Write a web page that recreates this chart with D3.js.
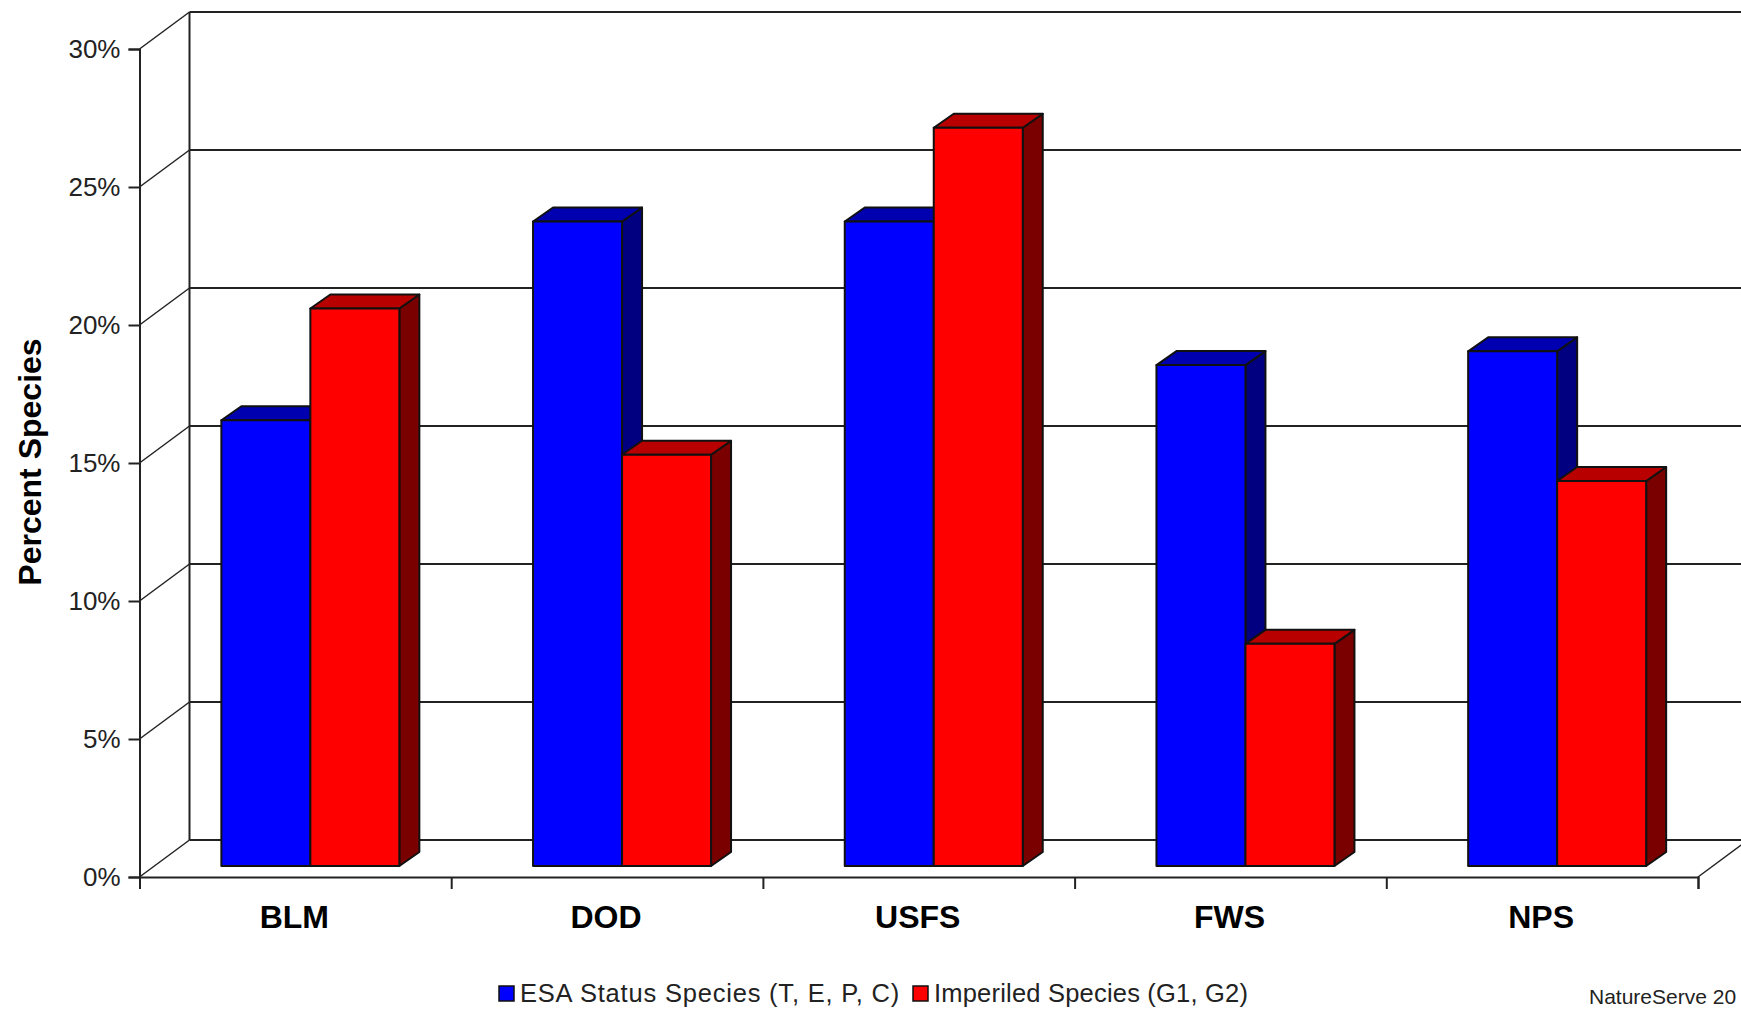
<!DOCTYPE html>
<html>
<head>
<meta charset="utf-8">
<script src="https://cdn.jsdelivr.net/npm/d3@7"></script>
<style>
  html, body { margin: 0; padding: 0; background: #fff; overflow: hidden; }
  text { font-family: "Liberation Sans", Arial, sans-serif; }
</style>
</head>
<body>
<div id="chart"></div>
<script>
const categories = ["BLM", "DOD", "USFS", "FWS", "NPS"];
const esaValues = [16.15, 23.35, 23.35, 18.15, 18.65];
const imperiledValues = [20.2, 14.9, 26.75, 8.05, 13.95];
const yTicks = [0, 5, 10, 15, 20, 25, 30];
const seriesNames = ["ESA Status Species (T, E, P, C)", "Imperiled Species (G1, G2)"];

const chartWidth = 1741, chartHeight = 1009;
const lineColor = "#222";

// front plane of the 3D box, the back wall is shifted by depthX / depthY
const plotLeft = 139.5, plotRight = 1698, plotBottom = 877, plotTop = 49;
const depthX = 50, depthY = 37;
// bars stand part way into the floor
const barDepthX = 20, barDepthY = 14, barShiftX = 15, barShiftY = 11;
const barGroupWidth = 178;

const svg = d3.select("#chart").append("svg")
    .attr("width", chartWidth)
    .attr("height", chartHeight)
    .style("display", "block");

const xScale = d3.scaleBand().domain(categories).range([plotLeft, plotRight]);
const xEdges = d3.scaleLinear().domain([0, categories.length]).range([plotLeft, plotRight]);
const xInner = d3.scaleBand().domain([0, 1]).range([0, barGroupWidth]);
const yScale = d3.scaleLinear().domain([0, 30]).range([plotBottom, plotTop]);

// back wall grid lines and the diagonals running to the front axis
const grid = svg.append("g").attr("stroke", lineColor).attr("stroke-width", 2).attr("fill", "none");
yTicks.forEach(t => {
    grid.append("line")
        .attr("x1", plotLeft + depthX).attr("x2", chartWidth)
        .attr("y1", yScale(t) - depthY).attr("y2", yScale(t) - depthY);
    grid.append("line")
        .attr("x1", plotLeft).attr("x2", plotLeft + depthX)
        .attr("y1", yScale(t)).attr("y2", yScale(t) - depthY)
        .attr("stroke-width", 1.5);
});
grid.append("line")
    .attr("x1", plotLeft + depthX).attr("x2", plotLeft + depthX)
    .attr("y1", yScale(30) - depthY).attr("y2", yScale(0) - depthY);
grid.append("line")
    .attr("x1", plotRight).attr("x2", plotRight + depthX)
    .attr("y1", yScale(0)).attr("y2", yScale(0) - depthY)
    .attr("stroke-width", 1.5);

// axes
const yAxis = svg.append("g")
    .attr("transform", `translate(${plotLeft},0)`)
    .call(d3.axisLeft(yScale).tickValues(yTicks).tickFormat(d => d + "%").tickSize(11).tickPadding(8));
const xAxis = svg.append("g")
    .attr("transform", `translate(0,${plotBottom})`)
    .call(d3.axisBottom(xEdges).ticks(categories.length).tickFormat("").tickSize(12));
[yAxis, xAxis].forEach(a => {
    a.select(".domain").attr("stroke", lineColor).attr("stroke-width", 2);
    a.selectAll(".tick line").attr("stroke", lineColor).attr("stroke-width", 2);
});
yAxis.selectAll("text").attr("font-size", 26).attr("fill", "#222");

svg.append("g")
    .selectAll("text")
    .data(categories)
    .join("text")
    .attr("x", d => xScale(d) + xScale.bandwidth() / 2 - 1)
    .attr("y", 928)
    .attr("text-anchor", "middle")
    .attr("font-size", 32)
    .attr("font-weight", "bold")
    .attr("fill", "#000")
    .text(d => d);

svg.append("text")
    .attr("transform", "translate(41,462) rotate(-90)")
    .attr("text-anchor", "middle")
    .attr("font-size", 32)
    .attr("font-weight", "bold")
    .text("Percent Species");

// bars: one front face, one top face, one side face each
const series = [
    { values: esaValues, front: "#0000ff", topFace: "#0000b0", side: "#000080" },
    { values: imperiledValues, front: "#ff0000", topFace: "#b80000", side: "#7a0000" }
];

const bars = svg.append("g").attr("stroke", "#111").attr("stroke-width", 2).attr("stroke-linejoin", "round");
// drawn left to right so a red bar can cover the side of the blue one
categories.forEach((cat, c) => {
    const start = xScale(cat) + (xScale.bandwidth() - barGroupWidth) / 2 + barShiftX;
    series.forEach((s, i) => {
        const x0 = start + xInner(i);
        const x1 = x0 + xInner.bandwidth();
        const y0 = yScale(s.values[c]) - barShiftY;
        const y1 = plotBottom - barShiftY;
        bars.append("path")
            .attr("fill", s.side)
            .attr("d", `M${x1},${y0}L${x1 + barDepthX},${y0 - barDepthY}L${x1 + barDepthX},${y1 - barDepthY}L${x1},${y1}Z`);
        bars.append("path")
            .attr("fill", s.topFace)
            .attr("d", `M${x0},${y0}L${x0 + barDepthX},${y0 - barDepthY}L${x1 + barDepthX},${y0 - barDepthY}L${x1},${y0}Z`);
        bars.append("rect")
            .attr("fill", s.front)
            .attr("x", x0).attr("y", y0)
            .attr("width", x1 - x0).attr("height", y1 - y0);
    });
});

// legend
const legendColors = ["#0000ff", "#ff0000"];
const legendX = [499, 913], legendText = [520, 934], legendSpacing = [0.8, 0.2];
seriesNames.forEach((name, i) => {
    svg.append("rect")
        .attr("x", legendX[i]).attr("y", 986)
        .attr("width", 15).attr("height", 15)
        .attr("fill", legendColors[i])
        .attr("stroke", "#111").attr("stroke-width", 1.5);
    svg.append("text")
        .attr("x", legendText[i]).attr("y", 1002)
        .attr("font-size", 25.5)
        .attr("letter-spacing", legendSpacing[i])
        .attr("fill", "#222")
        .text(name);
});

svg.append("text")
    .attr("x", 1589).attr("y", 1004)
    .attr("font-size", 21)
    .attr("fill", "#222")
    .text("NatureServe 20");
</script>
</body>
</html>
